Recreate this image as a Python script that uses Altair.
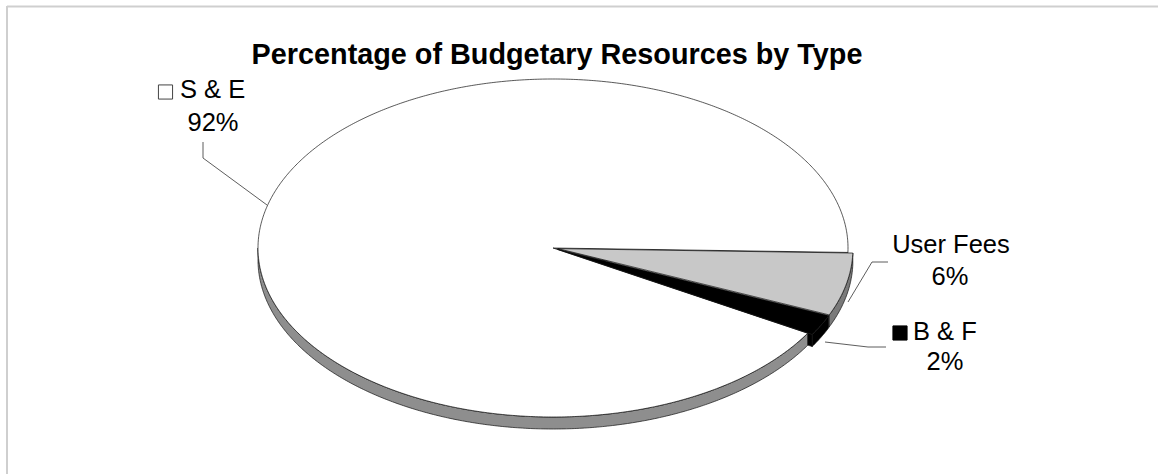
import altair as alt
import numpy as np
import pandas as pd

# ---- data ----
categories = ["S & E", "User Fees", "B & F"]
percents = [92, 6, 2]
title_text = "Percentage of Budgetary Resources by Type"

# ---- layout / style ----
W, H = 1158, 474
CX, CY = 553, 248          # pie centre (px)
RX, RY = 295, 169          # ellipse radii (px)
DEPTH = 12                 # pie thickness (px)
START = 1.5                # first slice angle (deg, clockwise from 3 o'clock)
TILT = RY / RX
D = DEPTH / RX
EXPLODE = {"S & E": 0.0, "User Fees": 0.017, "B & F": 0.017}
TOP_FILL = {"S & E": "#ffffff", "User Fees": "#c8c8c8", "B & F": "#000000"}
SIDE_FILL = {"S & E": "#8e8e8e", "User Fees": "#7a7a7a", "B & F": "#000000"}
draw_order = ["User Fees", "B & F", "S & E"]   # clockwise order of slices

angles = {}
a = START
for c in draw_order:
    p = percents[categories.index(c)]
    angles[c] = (a, a + p * 3.6)
    a += p * 3.6


def pt(c, deg, r=1.0, z=0.0):
    a0, a1 = angles[c]
    m = np.radians((a0 + a1) / 2)
    e = EXPLODE[c]
    t = np.radians(deg)
    ux = r * np.cos(t) + e * np.cos(m)
    uy = r * np.sin(t) + e * np.sin(m)
    return ux, -uy * TILT - z * D


def arc(c, d0, d1, z=0.0):
    n = max(2, int(abs(d1 - d0) / 0.5) + 1)
    return [pt(c, d, 1.0, z) for d in np.linspace(d0, d1, n)]


polys = []  # (name, fill, points)

# radial walls visible at the front
for c in ["S & E", "B & F"]:
    a1 = angles[c][1]
    pts = [pt(c, a1, 0.0, 0), pt(c, a1, 1.0, 0), pt(c, a1, 1.0, 1), pt(c, a1, 0.0, 1)]
    polys.append(("rad_" + c, SIDE_FILL[c], pts))

# outer walls (front half only)
for c in ["S & E", "User Fees", "B & F"]:
    a0, a1 = angles[c]
    b0, b1 = max(a0, 0.0), min(a1, 180.0)
    if b1 > b0:
        pts = arc(c, b0, b1, 0) + arc(c, b1, b0, 1)
        polys.append(("side_" + c, SIDE_FILL[c], pts))

# top faces
for c in ["S & E", "User Fees", "B & F"]:
    a0, a1 = angles[c]
    pts = [pt(c, a0, 0.0, 0)] + arc(c, a0, a1, 0)
    polys.append(("top_" + c, TOP_FILL[c], pts))

rows = []
for name, fill, pts in polys:
    pts = pts + [pts[0]]
    for i, (x, y) in enumerate(pts):
        rows.append({"poly": name, "i": i, "x": x, "y": y})
geo = pd.DataFrame(rows)


def px2u(px, py):
    return (px - CX) / RX, (CY - py) / RX


leaders = {
    "S & E": [(203, 142), (203, 158), (267, 205)],
    "User Fees": [(888, 262), (872, 262), (848, 302)],
    "B & F": [(886, 347), (868, 347), (825, 342)],
}
lrows = []
for c, pts in leaders.items():
    for i, (px, py) in enumerate(pts):
        x, y = px2u(px, py)
        lrows.append({"lead": c, "i": i, "x": x, "y": y})
lead_df = pd.DataFrame(lrows)

xs = alt.Scale(domain=[-CX / RX, (W - CX) / RX], nice=False, zero=False)
ys = alt.Scale(domain=[-(H - CY) / RX, CY / RX], nice=False, zero=False)

layers = []
for name, fill, _ in polys:
    layers.append(
        alt.Chart(geo)
        .transform_filter(alt.datum.poly == name)
        .mark_line(fill=fill, stroke="#111111", strokeWidth=0.7, strokeJoin="round")
        .encode(
            x=alt.X("x:Q", scale=xs, axis=None),
            y=alt.Y("y:Q", scale=ys, axis=None),
            order=alt.Order("i:Q"),
        )
    )

layers.append(
    alt.Chart(lead_df)
    .mark_line(stroke="#333333", strokeWidth=0.8)
    .encode(
        x=alt.X("x:Q", scale=xs, axis=None),
        y=alt.Y("y:Q", scale=ys, axis=None),
        detail="lead:N",
        order=alt.Order("i:Q"),
    )
)

one = pd.DataFrame({"k": [0]})
FONT = "Liberation Sans"
LS = 25.5


def txt(s, x, y, size=LS, align="center", weight="normal"):
    return alt.Chart(one).mark_text(
        text=s, font=FONT, fontSize=size, fontWeight=weight, align=align,
        baseline="alphabetic", color="#000000"
    ).encode(x=alt.value(x), y=alt.value(y))


# frame
layers.append(alt.Chart(one).mark_rule(color="#cfcfcf", strokeWidth=2).encode(
    x=alt.value(7), x2=alt.value(W), y=alt.value(6.5)))
layers.append(alt.Chart(one).mark_rule(color="#cfcfcf", strokeWidth=2).encode(
    x=alt.value(7), y=alt.value(6), y2=alt.value(H)))

layers.append(txt(title_text, 557, 64, size=28.8, weight="bold"))

# labels
layers.append(alt.Chart(one).mark_square(size=200, fill="#ffffff", stroke="#444444", strokeWidth=1, opacity=1).encode(
    x=alt.value(165.5), y=alt.value(92)))
layers.append(txt(categories[0], 180, 98, align="left"))
layers.append(txt(f"{percents[0]}%", 213, 131))

layers.append(txt(categories[1], 951, 253))
layers.append(txt(f"{percents[1]}%", 950, 285))

layers.append(alt.Chart(one).mark_square(size=200, fill="#000000", stroke="#000000", strokeWidth=1, opacity=1).encode(
    x=alt.value(900), y=alt.value(333)))
layers.append(txt(categories[2], 913, 340, align="left"))
layers.append(txt(f"{percents[2]}%", 945, 370))

chart = (
    alt.layer(*layers)
    .properties(width=W, height=H, autosize=alt.AutoSizeParams(type="none"), padding=0, background="#ffffff")
    .configure_view(stroke=None)
)

chart.save("out.html", embed_options={"renderer": "svg", "actions": False})
